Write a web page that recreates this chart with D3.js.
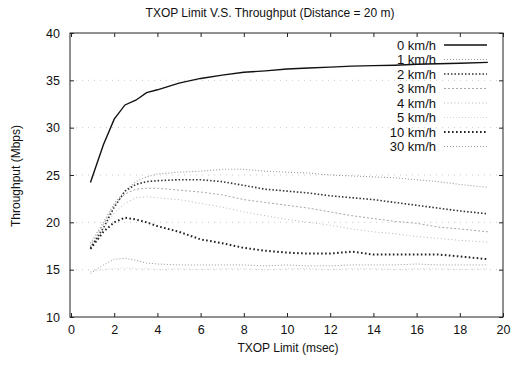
<!DOCTYPE html>
<html><head><meta charset="utf-8">
<script src="https://cdn.jsdelivr.net/npm/d3@7"></script>
<style>body{margin:0;background:#fff;}svg{display:block;font-family:"Liberation Sans",Arial,sans-serif;}</style>
</head><body><svg id="c" width="524" height="366"></svg>
<script>
const txop = [0.9, 1.5, 2, 2.5, 3, 3.5, 4, 5, 6, 7, 8, 9, 10, 11, 12, 13, 14, 15, 16, 17, 18, 19.3];
const speeds = ["0 km/h","1 km/h","2 km/h","3 km/h","4 km/h","5 km/h","10 km/h","30 km/h"];
const v0  = [24.2,28.2,30.9,32.4,32.9,33.7,34.0,34.7,35.2,35.55,35.85,36.0,36.2,36.3,36.4,36.5,36.55,36.6,36.7,36.75,36.8,36.9];
const v1  = [17.8,20.0,22.0,23.3,24.3,24.8,25.1,25.3,25.4,25.6,25.6,25.4,25.3,25.2,25.0,24.9,24.8,24.7,24.5,24.3,24.0,23.7];
const v2  = [17.3,19.4,21.6,23.3,24.0,24.3,24.4,24.5,24.5,24.3,23.9,23.5,23.3,23.1,22.8,22.6,22.4,22.1,21.8,21.5,21.2,20.9];
const v3  = [17.5,19.8,21.8,23.0,23.5,23.6,23.6,23.4,23.2,22.9,22.4,22.1,21.8,21.5,21.1,20.7,20.4,20.1,19.9,19.5,19.3,19.0];
const v4  = [17.2,19.3,21.0,22.0,22.6,22.7,22.6,22.4,22.0,21.6,21.1,20.7,20.3,20.0,19.7,19.3,19.0,18.8,18.5,18.3,18.1,17.9];
const v5  = [14.8,15.0,15.1,15.2,15.1,15.1,15.0,15.1,15.0,15.1,15.1,15.0,15.1,15.1,15.0,15.1,15.1,15.0,15.1,15.1,15.0,15.1];
const v10 = [17.2,19.0,20.0,20.5,20.3,20.0,19.6,19.0,18.2,17.8,17.3,17.0,16.8,16.7,16.7,16.9,16.6,16.6,16.6,16.6,16.4,16.1];
const v30 = [14.6,15.5,16.1,16.2,16.0,15.7,15.6,15.5,15.5,15.5,15.5,15.4,15.5,15.4,15.4,15.5,15.5,15.5,15.6,15.5,15.5,15.5];
const xTicks = [0,2,4,6,8,10,12,14,16,18,20];
const yTicks = [10,15,20,25,30,35,40];

const seriesVals = [v0,v1,v2,v3,v4,v5,v10,v30];
const styles = [
  {c:"#111", w:1.4, d:null},
  {c:"#9a9a9a", w:1.1, d:"1,2"},
  {c:"#333", w:1.6, d:"1.5,2"},
  {c:"#a8a8a8", w:1.0, d:"2,2"},
  {c:"#b8b8b8", w:1.0, d:"1,2.5"},
  {c:"#d6d6d6", w:1.0, d:"1,2"},
  {c:"#222", w:2.0, d:"1.6,2.4"},
  {c:"#999", w:1.0, d:"1,2"}
];

const svg = d3.select("#c");
const L=70, R=503, T=33, B=317;
const x = d3.scaleLinear().domain([0,20]).range([L+1,R]);
const y = d3.scaleLinear().domain([10,40]).range([B,T]);

// grid (y only)
svg.append("g").selectAll("line").data(yTicks.filter(t=>t>10&&t<40)).join("line")
  .attr("x1",L).attr("x2",R).attr("y1",d=>y(d)).attr("y2",d=>y(d))
  .attr("stroke","#bbb").attr("stroke-width",0.8).attr("stroke-dasharray","1,5");

// axes
const xb = d3.axisBottom(x).tickValues(xTicks).tickSize(-4).tickPadding(8).tickFormat(d3.format("d"));
const xt = d3.axisTop(x).tickValues(xTicks).tickSize(-4).tickFormat("");
const yl = d3.axisLeft(y).tickValues(yTicks).tickSize(-4).tickPadding(10).tickFormat(d3.format("d"));
const yr = d3.axisRight(y).tickValues(yTicks).tickSize(-4).tickFormat("");
function style(g){ g.select(".domain").remove(); g.selectAll("line").attr("stroke","#222"); g.selectAll("text").attr("font-size",12.5).attr("fill","#111").attr("font-family","Liberation Sans, Arial, sans-serif"); }
svg.append("g").attr("transform",`translate(0,${B})`).call(xb).call(style);
svg.append("g").attr("transform",`translate(0,${T})`).call(xt).call(style);
svg.append("g").attr("transform",`translate(${L},0)`).call(yl).call(style);
svg.append("g").attr("transform",`translate(${R},0)`).call(yr).call(style);
svg.append("rect").attr("x",L).attr("y",T).attr("width",R-L).attr("height",B-T)
  .attr("fill","none").attr("stroke","#222").attr("stroke-width",1);

// lines
const line = d3.line().x((d,i)=>x(txop[i])).y(d=>y(d));
svg.append("g").selectAll("path").data(seriesVals).join("path")
  .attr("d",d=>line(d)).attr("fill","none")
  .attr("stroke",(d,i)=>styles[i].c).attr("stroke-width",(d,i)=>styles[i].w)
  .attr("stroke-dasharray",(d,i)=>styles[i].d);

// legend
const lg = svg.append("g");
speeds.forEach((s,i)=>{
  const yy = 45 + i*14.5;
  lg.append("text").attr("x",436).attr("y",yy+4.5).attr("text-anchor","end")
    .attr("font-size",13).attr("fill","#111").text(s);
  lg.append("line").attr("x1",444).attr("x2",487).attr("y1",yy).attr("y2",yy)
    .attr("stroke",styles[i].c).attr("stroke-width",styles[i].w).attr("stroke-dasharray",styles[i].d);
});

// titles
svg.append("text").attr("x",270).attr("y",17).attr("text-anchor","middle").attr("font-size",12).attr("fill","#111")
  .text("TXOP Limit V.S. Throughput (Distance = 20 m)");
svg.append("text").attr("x",288).attr("y",352).attr("text-anchor","middle").attr("font-size",12).attr("fill","#111")
  .text("TXOP Limit (msec)");
svg.append("text").attr("transform","translate(20,176) rotate(-90)").attr("text-anchor","middle").attr("font-size",12).attr("fill","#111")
  .text("Throughput (Mbps)");
</script></body></html>
